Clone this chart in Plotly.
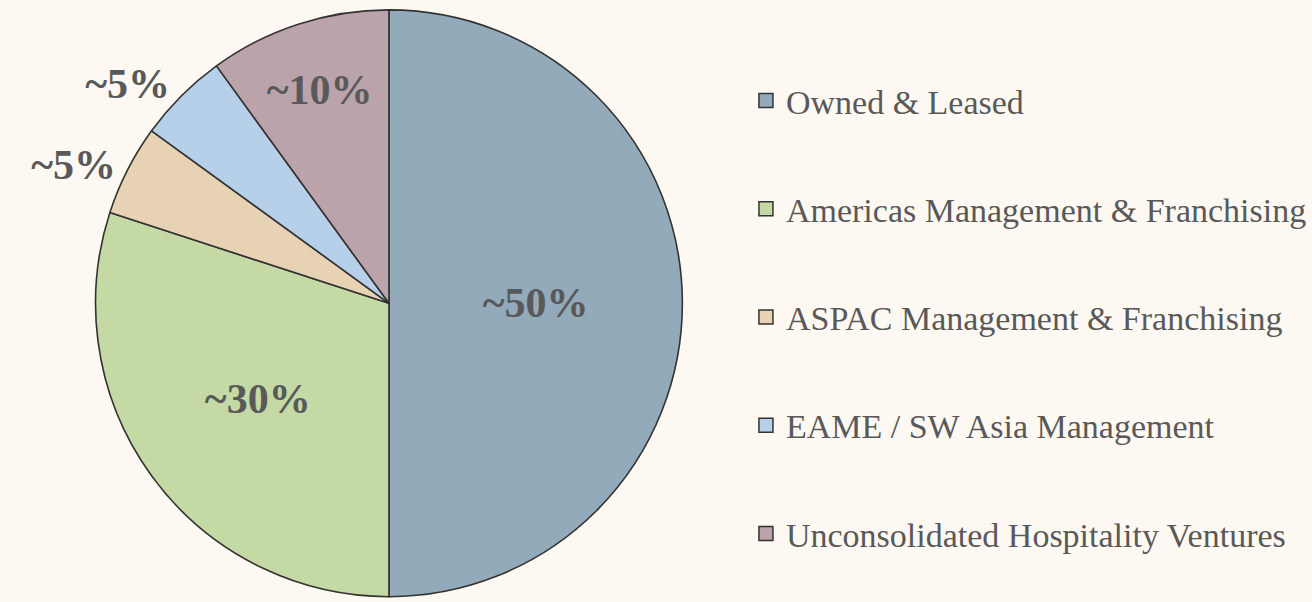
import plotly.graph_objects as go

labels = ["Owned & Leased", "Americas Management & Franchising",
          "ASPAC Management & Franchising", "EAME / SW Asia Management",
          "Unconsolidated Hospitality Ventures"]
values = [50, 30, 5, 5, 10]
text_labels = ["~50%", "~30%", "~5%", "~5%", "~10%"]
text_pos = ["inside", "inside", "outside", "outside", "inside"]
colors = ["#93AABB", "#C4D9A4", "#E8D2B4", "#B5D0E8", "#BBA3AB"]

BG = "#FDF8F1"
FONT = "Liberation Serif"

fig = go.Figure()
fig.add_trace(go.Pie(
    labels=labels, values=values, text=text_labels,
    textinfo="text", textposition=text_pos,
    insidetextorientation="horizontal",
    sort=False, direction="clockwise", rotation=0,
    marker=dict(colors=colors, line=dict(color="#333333", width=1.6)),
    textfont=dict(family=FONT, size=42, color="#595959", weight="bold"),
    domain=dict(x=[0.0732, 0.5229], y=[0.0, 0.984]),
    showlegend=False,
))

for lab, col in zip(labels, colors):
    fig.add_trace(go.Scatter(
        x=[None], y=[None], mode="markers", name=lab, legendgroup=lab,
        marker=dict(symbol="square", size=14, color=col,
                    line=dict(color="#333333", width=1.5)),
    ))

fig.update_layout(
    width=1312, height=602,
    margin=dict(l=0, r=0, t=0, b=0),
    paper_bgcolor=BG, plot_bgcolor=BG,
    xaxis=dict(visible=False), yaxis=dict(visible=False),
    legend=dict(x=0.5716, y=0.469, xanchor="left", yanchor="middle",
                font=dict(family=FONT, size=34, color="#595959"),
                tracegroupgap=61, itemwidth=30, bgcolor="rgba(0,0,0,0)"),
)
fig.write_html("out.html", config={"displayModeBar": False},
               post_script="document.body.style.margin='0';"
                           "document.body.style.background='" + BG + "';")
